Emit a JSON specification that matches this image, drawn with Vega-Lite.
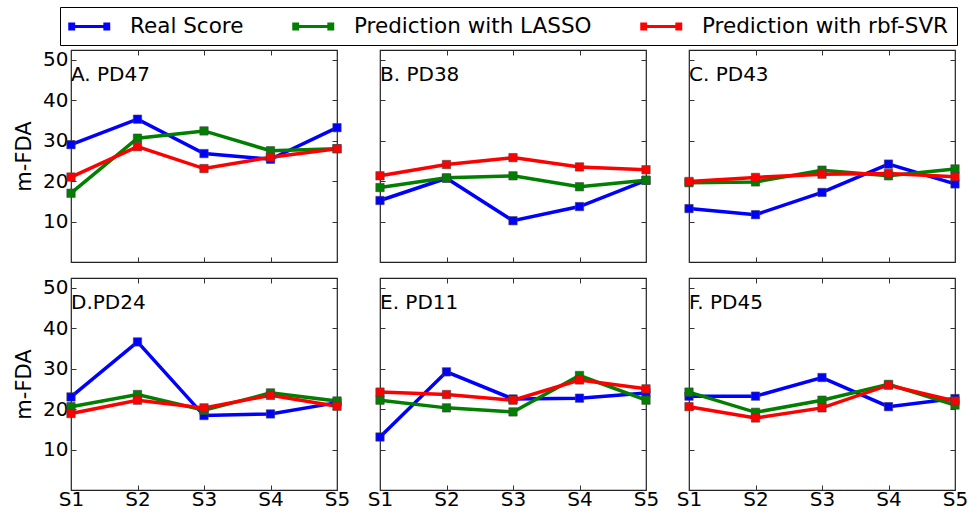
{
  "$schema": "https://vega.github.io/schema/vega-lite/v6.json",
  "padding": {"left": 12, "top": 6, "right": 5, "bottom": 2},
  "datasets": {
    "scores": [
      {"panel":"A. PD47","series":"Real Score","session":"S1","value":29.0},
      {"panel":"A. PD47","series":"Real Score","session":"S2","value":35.3},
      {"panel":"A. PD47","series":"Real Score","session":"S3","value":26.8},
      {"panel":"A. PD47","series":"Real Score","session":"S4","value":25.4},
      {"panel":"A. PD47","series":"Real Score","session":"S5","value":33.2},
      {"panel":"A. PD47","series":"Prediction with LASSO","session":"S1","value":17.0},
      {"panel":"A. PD47","series":"Prediction with LASSO","session":"S2","value":30.6},
      {"panel":"A. PD47","series":"Prediction with LASSO","session":"S3","value":32.4},
      {"panel":"A. PD47","series":"Prediction with LASSO","session":"S4","value":27.5},
      {"panel":"A. PD47","series":"Prediction with LASSO","session":"S5","value":28.0},
      {"panel":"A. PD47","series":"Prediction with rbf-SVR","session":"S1","value":21.0},
      {"panel":"A. PD47","series":"Prediction with rbf-SVR","session":"S2","value":28.5},
      {"panel":"A. PD47","series":"Prediction with rbf-SVR","session":"S3","value":23.1},
      {"panel":"A. PD47","series":"Prediction with rbf-SVR","session":"S4","value":25.9},
      {"panel":"A. PD47","series":"Prediction with rbf-SVR","session":"S5","value":28.0},
      {"panel":"B. PD38","series":"Real Score","session":"S1","value":15.2},
      {"panel":"B. PD38","series":"Real Score","session":"S2","value":20.7},
      {"panel":"B. PD38","series":"Real Score","session":"S3","value":10.2},
      {"panel":"B. PD38","series":"Real Score","session":"S4","value":13.7},
      {"panel":"B. PD38","series":"Real Score","session":"S5","value":20.2},
      {"panel":"B. PD38","series":"Prediction with LASSO","session":"S1","value":18.4},
      {"panel":"B. PD38","series":"Prediction with LASSO","session":"S2","value":20.8},
      {"panel":"B. PD38","series":"Prediction with LASSO","session":"S3","value":21.3},
      {"panel":"B. PD38","series":"Prediction with LASSO","session":"S4","value":18.6},
      {"panel":"B. PD38","series":"Prediction with LASSO","session":"S5","value":20.2},
      {"panel":"B. PD38","series":"Prediction with rbf-SVR","session":"S1","value":21.3},
      {"panel":"B. PD38","series":"Prediction with rbf-SVR","session":"S2","value":24.1},
      {"panel":"B. PD38","series":"Prediction with rbf-SVR","session":"S3","value":25.8},
      {"panel":"B. PD38","series":"Prediction with rbf-SVR","session":"S4","value":23.5},
      {"panel":"B. PD38","series":"Prediction with rbf-SVR","session":"S5","value":22.8},
      {"panel":"C. PD43","series":"Real Score","session":"S1","value":13.2},
      {"panel":"C. PD43","series":"Real Score","session":"S2","value":11.7},
      {"panel":"C. PD43","series":"Real Score","session":"S3","value":17.2},
      {"panel":"C. PD43","series":"Real Score","session":"S4","value":24.2},
      {"panel":"C. PD43","series":"Real Score","session":"S5","value":19.3},
      {"panel":"C. PD43","series":"Prediction with LASSO","session":"S1","value":19.6},
      {"panel":"C. PD43","series":"Prediction with LASSO","session":"S2","value":19.8},
      {"panel":"C. PD43","series":"Prediction with LASSO","session":"S3","value":22.7},
      {"panel":"C. PD43","series":"Prediction with LASSO","session":"S4","value":21.3},
      {"panel":"C. PD43","series":"Prediction with LASSO","session":"S5","value":23.0},
      {"panel":"C. PD43","series":"Prediction with rbf-SVR","session":"S1","value":19.9},
      {"panel":"C. PD43","series":"Prediction with rbf-SVR","session":"S2","value":20.9},
      {"panel":"C. PD43","series":"Prediction with rbf-SVR","session":"S3","value":21.7},
      {"panel":"C. PD43","series":"Prediction with rbf-SVR","session":"S4","value":21.9},
      {"panel":"C. PD43","series":"Prediction with rbf-SVR","session":"S5","value":21.1},
      {"panel":"D.PD24","series":"Real Score","session":"S1","value":23.0},
      {"panel":"D.PD24","series":"Real Score","session":"S2","value":36.6},
      {"panel":"D.PD24","series":"Real Score","session":"S3","value":18.4},
      {"panel":"D.PD24","series":"Real Score","session":"S4","value":18.8},
      {"panel":"D.PD24","series":"Real Score","session":"S5","value":21.6},
      {"panel":"D.PD24","series":"Prediction with LASSO","session":"S1","value":20.6},
      {"panel":"D.PD24","series":"Prediction with LASSO","session":"S2","value":23.6},
      {"panel":"D.PD24","series":"Prediction with LASSO","session":"S3","value":19.7},
      {"panel":"D.PD24","series":"Prediction with LASSO","session":"S4","value":24.0},
      {"panel":"D.PD24","series":"Prediction with LASSO","session":"S5","value":22.0},
      {"panel":"D.PD24","series":"Prediction with rbf-SVR","session":"S1","value":18.9},
      {"panel":"D.PD24","series":"Prediction with rbf-SVR","session":"S2","value":22.2},
      {"panel":"D.PD24","series":"Prediction with rbf-SVR","session":"S3","value":20.3},
      {"panel":"D.PD24","series":"Prediction with rbf-SVR","session":"S4","value":23.4},
      {"panel":"D.PD24","series":"Prediction with rbf-SVR","session":"S5","value":20.7},
      {"panel":"E. PD11","series":"Real Score","session":"S1","value":13.1},
      {"panel":"E. PD11","series":"Real Score","session":"S2","value":29.2},
      {"panel":"E. PD11","series":"Real Score","session":"S3","value":22.5},
      {"panel":"E. PD11","series":"Real Score","session":"S4","value":22.7},
      {"panel":"E. PD11","series":"Real Score","session":"S5","value":24.0},
      {"panel":"E. PD11","series":"Prediction with LASSO","session":"S1","value":22.2},
      {"panel":"E. PD11","series":"Prediction with LASSO","session":"S2","value":20.3},
      {"panel":"E. PD11","series":"Prediction with LASSO","session":"S3","value":19.3},
      {"panel":"E. PD11","series":"Prediction with LASSO","session":"S4","value":28.3},
      {"panel":"E. PD11","series":"Prediction with LASSO","session":"S5","value":22.2},
      {"panel":"E. PD11","series":"Prediction with rbf-SVR","session":"S1","value":24.2},
      {"panel":"E. PD11","series":"Prediction with rbf-SVR","session":"S2","value":23.6},
      {"panel":"E. PD11","series":"Prediction with rbf-SVR","session":"S3","value":22.2},
      {"panel":"E. PD11","series":"Prediction with rbf-SVR","session":"S4","value":27.2},
      {"panel":"E. PD11","series":"Prediction with rbf-SVR","session":"S5","value":25.0},
      {"panel":"F. PD45","series":"Real Score","session":"S1","value":23.2},
      {"panel":"F. PD45","series":"Real Score","session":"S2","value":23.2},
      {"panel":"F. PD45","series":"Real Score","session":"S3","value":27.8},
      {"panel":"F. PD45","series":"Real Score","session":"S4","value":20.6},
      {"panel":"F. PD45","series":"Real Score","session":"S5","value":22.6},
      {"panel":"F. PD45","series":"Prediction with LASSO","session":"S1","value":24.2},
      {"panel":"F. PD45","series":"Prediction with LASSO","session":"S2","value":19.2},
      {"panel":"F. PD45","series":"Prediction with LASSO","session":"S3","value":22.2},
      {"panel":"F. PD45","series":"Prediction with LASSO","session":"S4","value":26.1},
      {"panel":"F. PD45","series":"Prediction with LASSO","session":"S5","value":21.0},
      {"panel":"F. PD45","series":"Prediction with rbf-SVR","session":"S1","value":20.6},
      {"panel":"F. PD45","series":"Prediction with rbf-SVR","session":"S2","value":17.8},
      {"panel":"F. PD45","series":"Prediction with rbf-SVR","session":"S3","value":20.3},
      {"panel":"F. PD45","series":"Prediction with rbf-SVR","session":"S4","value":25.9},
      {"panel":"F. PD45","series":"Prediction with rbf-SVR","session":"S5","value":22.0}
    ]
  },
  "data": {"name": "scores"},
  "columns": 3,
  "bounds": "flush",
  "spacing": {"row": 16, "column": 43},
  "concat": [
    {
      "width": 266, "height": 212,
      "transform": [{"filter": "datum.panel == 'A. PD47'"}],
      "layer": [
        {"mark": {"type": "line", "strokeWidth": 3.5},
         "encoding": {
           "x": {"field": "session", "type": "ordinal", "scale": {"type": "point", "padding": 0}, "axis": {"orient": "top", "labels": false, "title": null}},
           "y": {"field": "value", "type": "quantitative", "scale": {"domain": [0, 52.4], "nice": false, "zero": false}, "axis": {"orient": "right", "labels": false, "title": null, "values": [10, 20, 30, 40, 50]}},
           "color": {"field": "series", "type": "nominal", "scale": {"domain": ["Real Score", "Prediction with LASSO", "Prediction with rbf-SVR"], "range": ["#0000ff", "#007f00", "#ff0000"]}, "legend": {"title": null}},
           "order": {"field": "session"}}},
        {"mark": {"type": "point", "shape": "square", "size": 70, "filled": true, "opacity": 1, "stroke": "#444", "strokeWidth": 0.6},
         "encoding": {
           "x": {"field": "session", "type": "ordinal", "axis": {"labels": false, "title": null}},
           "y": {"field": "value", "type": "quantitative", "axis": {"values": [10, 20, 30, 40, 50], "title": "m-FDA"}},
           "color": {"field": "series", "type": "nominal", "legend": {"title": null}}}},
        {"transform": [{"filter": "datum.session == 'S1' && datum.series == 'Real Score'"}],
         "mark": {"type": "text", "align": "left", "baseline": "middle", "fontSize": 20, "color": "#000"},
         "encoding": {"x": {"field": "session", "type": "ordinal", "axis": null}, "y": {"datum": 46.2, "axis": null}, "text": {"field": "panel"}}}
      ],
      "resolve": {"axis": {"x": "independent", "y": "independent"}}
    },
    {
      "width": 266, "height": 212,
      "transform": [{"filter": "datum.panel == 'B. PD38'"}],
      "layer": [
        {"mark": {"type": "line", "strokeWidth": 3.5},
         "encoding": {
           "x": {"field": "session", "type": "ordinal", "scale": {"type": "point", "padding": 0}, "axis": {"orient": "top", "labels": false, "title": null}},
           "y": {"field": "value", "type": "quantitative", "scale": {"domain": [0, 52.4], "nice": false, "zero": false}, "axis": {"orient": "right", "labels": false, "title": null, "values": [10, 20, 30, 40, 50]}},
           "color": {"field": "series", "type": "nominal", "scale": {"domain": ["Real Score", "Prediction with LASSO", "Prediction with rbf-SVR"], "range": ["#0000ff", "#007f00", "#ff0000"]}, "legend": {"title": null}},
           "order": {"field": "session"}}},
        {"mark": {"type": "point", "shape": "square", "size": 70, "filled": true, "opacity": 1, "stroke": "#444", "strokeWidth": 0.6},
         "encoding": {
           "x": {"field": "session", "type": "ordinal", "axis": {"labels": false, "title": null}},
           "y": {"field": "value", "type": "quantitative", "axis": {"values": [10, 20, 30, 40, 50], "labels": false, "title": null}},
           "color": {"field": "series", "type": "nominal", "legend": {"title": null}}}},
        {"transform": [{"filter": "datum.session == 'S1' && datum.series == 'Real Score'"}],
         "mark": {"type": "text", "align": "left", "baseline": "middle", "fontSize": 20, "color": "#000"},
         "encoding": {"x": {"field": "session", "type": "ordinal", "axis": null}, "y": {"datum": 46.2, "axis": null}, "text": {"field": "panel"}}}
      ],
      "resolve": {"axis": {"x": "independent", "y": "independent"}}
    },
    {
      "width": 266, "height": 212,
      "transform": [{"filter": "datum.panel == 'C. PD43'"}],
      "layer": [
        {"mark": {"type": "line", "strokeWidth": 3.5},
         "encoding": {
           "x": {"field": "session", "type": "ordinal", "scale": {"type": "point", "padding": 0}, "axis": {"orient": "top", "labels": false, "title": null}},
           "y": {"field": "value", "type": "quantitative", "scale": {"domain": [0, 52.4], "nice": false, "zero": false}, "axis": {"orient": "right", "labels": false, "title": null, "values": [10, 20, 30, 40, 50]}},
           "color": {"field": "series", "type": "nominal", "scale": {"domain": ["Real Score", "Prediction with LASSO", "Prediction with rbf-SVR"], "range": ["#0000ff", "#007f00", "#ff0000"]}, "legend": {"title": null}},
           "order": {"field": "session"}}},
        {"mark": {"type": "point", "shape": "square", "size": 70, "filled": true, "opacity": 1, "stroke": "#444", "strokeWidth": 0.6},
         "encoding": {
           "x": {"field": "session", "type": "ordinal", "axis": {"labels": false, "title": null}},
           "y": {"field": "value", "type": "quantitative", "axis": {"values": [10, 20, 30, 40, 50], "labels": false, "title": null}},
           "color": {"field": "series", "type": "nominal", "legend": {"title": null}}}},
        {"transform": [{"filter": "datum.session == 'S1' && datum.series == 'Real Score'"}],
         "mark": {"type": "text", "align": "left", "baseline": "middle", "fontSize": 20, "color": "#000"},
         "encoding": {"x": {"field": "session", "type": "ordinal", "axis": null}, "y": {"datum": 46.2, "axis": null}, "text": {"field": "panel"}}}
      ],
      "resolve": {"axis": {"x": "independent", "y": "independent"}}
    },
    {
      "width": 266, "height": 212,
      "transform": [{"filter": "datum.panel == 'D.PD24'"}],
      "layer": [
        {"mark": {"type": "line", "strokeWidth": 3.5},
         "encoding": {
           "x": {"field": "session", "type": "ordinal", "scale": {"type": "point", "padding": 0}, "axis": {"orient": "top", "labels": false, "title": null}},
           "y": {"field": "value", "type": "quantitative", "scale": {"domain": [0, 52.4], "nice": false, "zero": false}, "axis": {"orient": "right", "labels": false, "title": null, "values": [10, 20, 30, 40, 50]}},
           "color": {"field": "series", "type": "nominal", "scale": {"domain": ["Real Score", "Prediction with LASSO", "Prediction with rbf-SVR"], "range": ["#0000ff", "#007f00", "#ff0000"]}, "legend": {"title": null}},
           "order": {"field": "session"}}},
        {"mark": {"type": "point", "shape": "square", "size": 70, "filled": true, "opacity": 1, "stroke": "#444", "strokeWidth": 0.6},
         "encoding": {
           "x": {"field": "session", "type": "ordinal", "axis": {"title": null}},
           "y": {"field": "value", "type": "quantitative", "axis": {"values": [10, 20, 30, 40, 50], "title": "m-FDA"}},
           "color": {"field": "series", "type": "nominal", "legend": {"title": null}}}},
        {"transform": [{"filter": "datum.session == 'S1' && datum.series == 'Real Score'"}],
         "mark": {"type": "text", "align": "left", "baseline": "middle", "fontSize": 20, "color": "#000"},
         "encoding": {"x": {"field": "session", "type": "ordinal", "axis": null}, "y": {"datum": 46.2, "axis": null}, "text": {"field": "panel"}}}
      ],
      "resolve": {"axis": {"x": "independent", "y": "independent"}}
    },
    {
      "width": 266, "height": 212,
      "transform": [{"filter": "datum.panel == 'E. PD11'"}],
      "layer": [
        {"mark": {"type": "line", "strokeWidth": 3.5},
         "encoding": {
           "x": {"field": "session", "type": "ordinal", "scale": {"type": "point", "padding": 0}, "axis": {"orient": "top", "labels": false, "title": null}},
           "y": {"field": "value", "type": "quantitative", "scale": {"domain": [0, 52.4], "nice": false, "zero": false}, "axis": {"orient": "right", "labels": false, "title": null, "values": [10, 20, 30, 40, 50]}},
           "color": {"field": "series", "type": "nominal", "scale": {"domain": ["Real Score", "Prediction with LASSO", "Prediction with rbf-SVR"], "range": ["#0000ff", "#007f00", "#ff0000"]}, "legend": {"title": null}},
           "order": {"field": "session"}}},
        {"mark": {"type": "point", "shape": "square", "size": 70, "filled": true, "opacity": 1, "stroke": "#444", "strokeWidth": 0.6},
         "encoding": {
           "x": {"field": "session", "type": "ordinal", "axis": {"title": null}},
           "y": {"field": "value", "type": "quantitative", "axis": {"values": [10, 20, 30, 40, 50], "labels": false, "title": null}},
           "color": {"field": "series", "type": "nominal", "legend": {"title": null}}}},
        {"transform": [{"filter": "datum.session == 'S1' && datum.series == 'Real Score'"}],
         "mark": {"type": "text", "align": "left", "baseline": "middle", "fontSize": 20, "color": "#000"},
         "encoding": {"x": {"field": "session", "type": "ordinal", "axis": null}, "y": {"datum": 46.2, "axis": null}, "text": {"field": "panel"}}}
      ],
      "resolve": {"axis": {"x": "independent", "y": "independent"}}
    },
    {
      "width": 266, "height": 212,
      "transform": [{"filter": "datum.panel == 'F. PD45'"}],
      "layer": [
        {"mark": {"type": "line", "strokeWidth": 3.5},
         "encoding": {
           "x": {"field": "session", "type": "ordinal", "scale": {"type": "point", "padding": 0}, "axis": {"orient": "top", "labels": false, "title": null}},
           "y": {"field": "value", "type": "quantitative", "scale": {"domain": [0, 52.4], "nice": false, "zero": false}, "axis": {"orient": "right", "labels": false, "title": null, "values": [10, 20, 30, 40, 50]}},
           "color": {"field": "series", "type": "nominal", "scale": {"domain": ["Real Score", "Prediction with LASSO", "Prediction with rbf-SVR"], "range": ["#0000ff", "#007f00", "#ff0000"]}, "legend": {"title": null}},
           "order": {"field": "session"}}},
        {"mark": {"type": "point", "shape": "square", "size": 70, "filled": true, "opacity": 1, "stroke": "#444", "strokeWidth": 0.6},
         "encoding": {
           "x": {"field": "session", "type": "ordinal", "axis": {"title": null}},
           "y": {"field": "value", "type": "quantitative", "axis": {"values": [10, 20, 30, 40, 50], "labels": false, "title": null}},
           "color": {"field": "series", "type": "nominal", "legend": {"title": null}}}},
        {"transform": [{"filter": "datum.session == 'S1' && datum.series == 'Real Score'"}],
         "mark": {"type": "text", "align": "left", "baseline": "middle", "fontSize": 20, "color": "#000"},
         "encoding": {"x": {"field": "session", "type": "ordinal", "axis": null}, "y": {"datum": 46.2, "axis": null}, "text": {"field": "panel"}}}
      ],
      "resolve": {"axis": {"x": "independent", "y": "independent"}}
    }
  ],
  "config": {
    "font": "DejaVu Sans",
    "view": {"stroke": "#222", "strokeWidth": 1.2},
    "text": {"font": "DejaVu Sans"},
    "axis": {
      "grid": false,
      "domain": false,
      "ticks": true,
      "tickSize": -5,
      "tickColor": "#333",
      "labelFontSize": 20,
      "labelColor": "#000",
      "labelFont": "DejaVu Sans",
      "titleFontSize": 21,
      "titleFontWeight": "normal",
      "titleColor": "#000",
      "titleFont": "DejaVu Sans"
    },
    "axisLeft": {"labelPadding": 8, "titlePadding": 8},
    "axisBottom": {"labelPadding": 4, "labelAngle": 0},
    "legend": {
      "orient": "none",
      "legendX": -11,
      "legendY": -43,
      "direction": "horizontal",
      "labelFontSize": 21.5,
      "labelFont": "DejaVu Sans",
      "labelColor": "#000",
      "labelLimit": 400,
      "symbolType": "M-1,0H3M-1,-0.25H-0.6V0.25H-1ZM2.6,-0.25H3V0.25H2.6Z",
      "symbolSize": 380,
      "symbolStrokeWidth": 3,
      "symbolFillColor": "transparent",
      "columnPadding": 43,
      "strokeColor": "#000",
      "padding": 8,
      "labelOffset": 39
    }
  }
}
